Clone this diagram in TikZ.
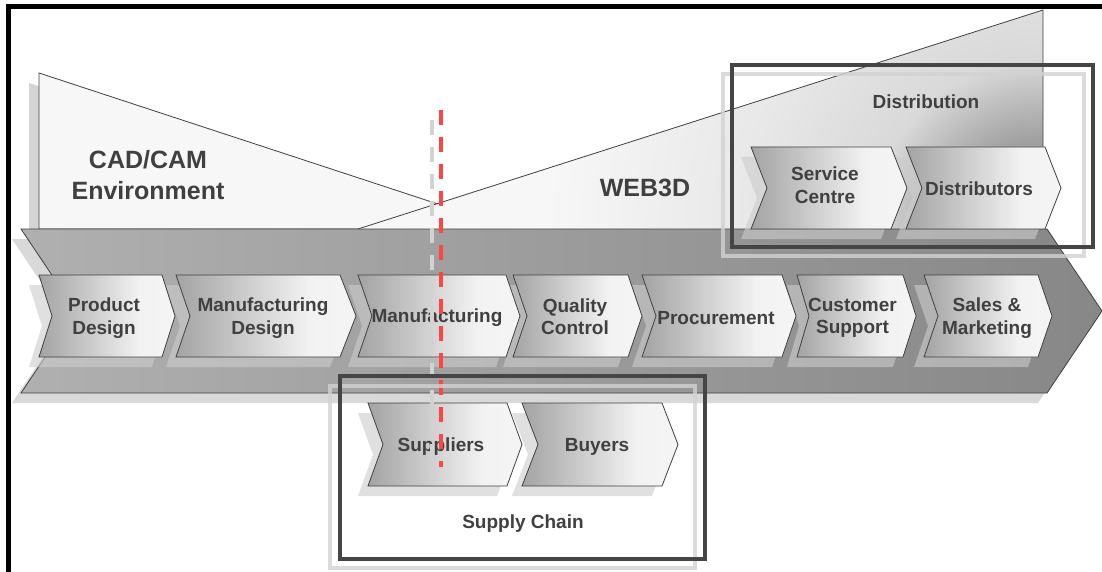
\documentclass[tikz,border=0pt]{standalone}
\usepackage{fontspec}
\setmainfont{Liberation Sans}
\definecolor{txt}{HTML}{404040}
\definecolor{edge}{HTML}{404040}
\definecolor{redline}{HTML}{FF4444}
\definecolor{lightbox}{HTML}{D2D2D2}
\definecolor{darkbox}{HTML}{454545}
\pgfdeclarehorizontalshading{chevsh}{100bp}{color(0bp)=(black!36); color(25bp)=(black!36); color(62bp)=(black!5); color(75bp)=(black!4); color(100bp)=(black!4)}
\pgfdeclareradialshading{webrad}{\pgfpoint{0bp}{0bp}}{color(0bp)=(black!45); color(4.5bp)=(black!37); color(8.5bp)=(black!15); color(15bp)=(black!9); color(20bp)=(black!6); color(25bp)=(black!3); color(50bp)=(black!3)}
\newcommand\chevshadow[6]{%
  \pgfmathsetmacro\chevmid{(#3+#4)/2}%
  \fill[chevshadowstyle] (#1-10,#3+10) -- (#2-10,#3+10) -- (#2+#6-10,\chevmid+10) -- (#2-10,#4+10) -- (#1-10,#4+10) -- (#1+#5-10,\chevmid+10) -- cycle;}
\newcommand\chevbox[6]{%
  \pgfmathsetmacro\chevmid{(#3+#4)/2}%
  \shadedraw[chevboxstyle] (#1,#3) -- (#2,#3) -- (#2+#6,\chevmid) -- (#2,#4) -- (#1,#4) -- (#1+#5,\chevmid) -- cycle;}
\begin{document}
\begin{tikzpicture}[x=1pt,y=-1pt,line join=miter,
  chevshadowstyle/.style={fill=black!20,opacity=0.6},
  chevboxstyle/.style={draw=edge,line width=0.8pt,shading=chevsh},
  lbl/.style={font=\bfseries\fontsize{19}{22.5}\selectfont,text=txt,align=center,inner sep=0pt},
  big/.style={font=\bfseries\fontsize{25}{31}\selectfont,text=txt,align=center,inner sep=0pt},
  lightrect/.style={draw=lightbox,line width=4.5pt,opacity=0.8},
  darkrect/.style={draw=darkbox,line width=4.5pt}]
\useasboundingbox (0,0) rectangle (1102,572);
\fill[white] (0,0) rectangle (1102,572);
% CAD/CAM triangle
\fill[black!17] (29,83) -- (504,239) -- (29,239) -- cycle;
\path[draw=edge,line width=0.8pt,fill=black!3] (39,73) -- (514,229) -- (39,229) -- cycle;
% WEB3D triangle with radial gradient from its lower right corner
\begin{scope}
  \clip (358,229) -- (1043,10) -- (1043,229) -- cycle;
  \fill[black!3] (358,229) -- (1043,10) -- (1043,229) -- cycle;
  \shade[shading=webrad] (1043,229) circle[radius=500];
\end{scope}
\draw[edge,line width=0.8pt] (358,229) -- (1043,10) -- (1043,229);
% main band
\fill[black!15] (12,239) -- (1038,239) -- (1093,321) -- (1038,403) -- (12,403) -- (67,321) -- cycle;
\shadedraw[draw=edge,line width=0.8pt,left color=black!31,right color=black!47] (21,229) -- (1047,229) -- (1102,311) -- (1047,393) -- (21,393) -- (76,311) -- cycle;
% chevron shadows
\chevshadow{39}{162}{275}{357}{13}{13}
\chevshadow{176}{340}{275}{357}{14}{16}
\chevshadow{358}{506}{275}{357}{14}{14}
\chevshadow{513}{628}{275}{357}{14}{14}
\chevshadow{642}{782}{275}{357}{14}{14}
\chevshadow{797}{903}{275}{357}{12}{13}
\chevshadow{924}{1038}{275}{357}{14}{14}
\chevshadow{751}{891}{147}{229}{16}{16}
\chevshadow{906}{1045}{147}{229}{16}{16}
\chevshadow{368}{507}{403}{486}{15}{15}
\chevshadow{522}{662}{403}{486}{16}{16}
% chevrons
\chevbox{39}{162}{275}{357}{13}{13}
\chevbox{176}{340}{275}{357}{14}{16}
\chevbox{358}{506}{275}{357}{14}{14}
\chevbox{513}{628}{275}{357}{14}{14}
\chevbox{642}{782}{275}{357}{14}{14}
\chevbox{797}{903}{275}{357}{12}{13}
\chevbox{924}{1038}{275}{357}{14}{14}
\chevbox{751}{891}{147}{229}{16}{16}
\chevbox{906}{1045}{147}{229}{16}{16}
\chevbox{368}{507}{403}{486}{15}{15}
\chevbox{522}{662}{403}{486}{16}{16}
% labels
\node[big] (cad) at (148,175) {CAD/CAM\\Environment};
\node[big] (web) at (645,188) {WEB3D};
\node[lbl] (dist) at (926,101.5) {Distribution};
\node[lbl] (sc) at (825,185) {Service\\Centre};
\node[lbl] (di) at (979,188.5) {Distributors};
\node[lbl] (pd) at (104,318) {Product\\Design};
\node[lbl] (md) at (263,318) {Manufacturing\\Design};
\node[lbl] (mf) at (437,318) {Manufacturing};
\node[lbl] (qc) at (575,316.5) {Quality\\Control};
\node[lbl] (pr) at (716,318) {Procurement};
\node[lbl] (cs) at (852.5,318) {Customer\\Support};
\node[lbl] (sm) at (987,318) {Sales \&\\Marketing};
\node[lbl] (su) at (441,446.5) {Suppliers};
\node[lbl] (bu) at (597,446.5) {Buyers};
\node[lbl] (sch) at (523,524) {Supply Chain};
% dashed divider and its shadow
\coordinate (gtop) at (432,120);
\coordinate (gbot) at (432,478);
\coordinate (rtop) at (441,110);
\coordinate (rbot) at (441,467);
\draw[draw=lightbox,line width=3.5pt,dash pattern=on 15pt off 12pt] (gtop) -- (gbot);
\draw[draw=redline,line width=3.5pt,dash pattern=on 15pt off 12pt] (rtop) -- (rbot);
% grouping rectangles
\draw[lightrect] (723,74) rectangle (1084,256);
\draw[darkrect] (732,65) rectangle (1093,247);
\draw[lightrect] (330,386) rectangle (695,568);
\draw[darkrect] (340,376) rectangle (705,559);
% frame
\draw[black,line width=5pt] (8.5,590) -- (8.5,6.5) -- (1120,6.5);
\end{tikzpicture}
\end{document}
